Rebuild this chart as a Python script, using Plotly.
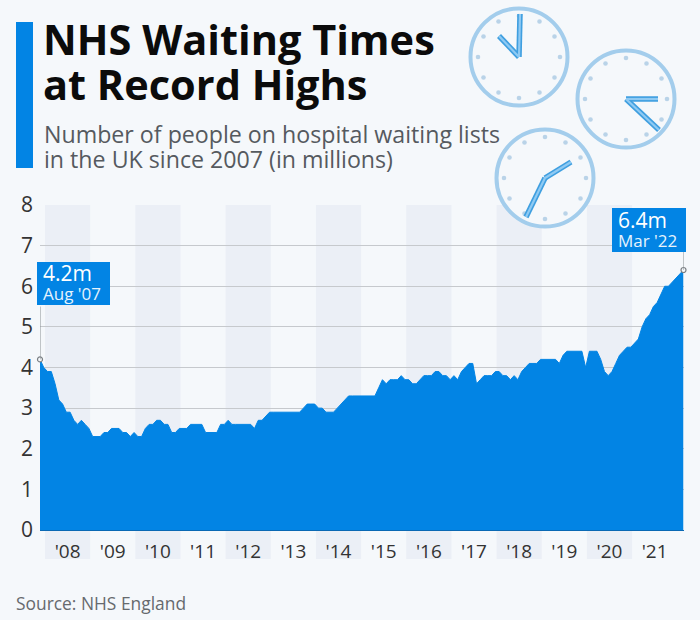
"""NHS waiting lists area chart, Statista style."""
import math

import plotly.graph_objects as go

# waiting list in millions
waiting_list = [
    4.2, 4.0, 3.9, 3.9, 3.6, 3.2, 3.1, 2.9, 2.9, 2.7, 2.6, 2.7,
    2.6, 2.5, 2.3, 2.3, 2.3, 2.4, 2.4, 2.5, 2.5, 2.5, 2.4, 2.4,
    2.3, 2.4, 2.3, 2.3, 2.5, 2.6, 2.6, 2.7, 2.7, 2.6, 2.6, 2.4,
    2.4, 2.5, 2.5, 2.5, 2.6, 2.6, 2.6, 2.6, 2.4, 2.4, 2.4, 2.4,
    2.6, 2.6, 2.7, 2.6, 2.6, 2.6, 2.6, 2.6, 2.6, 2.5, 2.7, 2.7,
    2.8, 2.9, 2.9, 2.9, 2.9, 2.9, 2.9, 2.9, 2.9, 2.9, 3.0, 3.1,
    3.1, 3.1, 3.0, 3.0, 2.9, 2.9, 2.9, 3.0, 3.1, 3.2, 3.3, 3.3,
    3.3, 3.3, 3.3, 3.3, 3.3, 3.3, 3.5, 3.7, 3.6, 3.7, 3.7, 3.7,
    3.8, 3.7, 3.7, 3.6, 3.6, 3.7, 3.8, 3.8, 3.8, 3.9, 3.9, 3.8,
    3.8, 3.7, 3.8, 3.7, 3.9, 4.0, 4.1, 4.1, 3.6, 3.7, 3.8, 3.8,
    3.8, 3.9, 3.9, 3.8, 3.8, 3.7, 3.8, 3.7, 3.9, 4.0, 4.1, 4.1,
    4.1, 4.2, 4.2, 4.2, 4.2, 4.2, 4.1, 4.3, 4.4, 4.4, 4.4, 4.4,
    4.4, 4.0, 4.4, 4.4, 4.4, 4.2, 3.9, 3.8, 3.9, 4.1, 4.3, 4.4,
    4.5, 4.5, 4.6, 4.7, 5.0, 5.2, 5.3, 5.5, 5.6, 5.8, 6.0, 6.0,
    6.1, 6.2, 6.3, 6.4,
]
year_labels = ["'08", "'09", "'10", "'11", "'12", "'13", "'14",
               "'15", "'16", "'17", "'18", "'19", "'20", "'21"]
year_centres = [7.33 + 12 * n for n in range(len(year_labels))]
y_ticks = [0, 1, 2, 3, 4, 5, 6, 7, 8]
months = list(range(len(waiting_list)))

FONT = "Open Sans"
BLUE = "#0284e4"
BACKGROUND = "#f5f8fb"
BAND = "#ebeff6"
CLOCK = "#a3cdec"
HAND_DARK = "#3f9fe0"
HAND_LIGHT = "#8fcaf3"
W, H = 700, 620


def px(x):
    return x / W


def py(y):
    return 1 - y / H


def paper_line(x0, y0, x1, y1, color, width):
    return dict(type="line", xref="paper", yref="paper", x0=px(x0), y0=py(y0),
                x1=px(x1), y1=py(y1), line=dict(color=color, width=width))


def paper_rect(x0, y0, x1, y1, color):
    return dict(type="rect", xref="paper", yref="paper", x0=px(x0), y0=py(y0),
                x1=px(x1), y1=py(y1), fillcolor=color, line=dict(width=0))


def paper_circle(cx, cy, r, fill, line_color=None, line_width=0):
    return dict(type="circle", xref="paper", yref="paper",
                x0=px(cx - r), y0=py(cy + r), x1=px(cx + r), y1=py(cy - r),
                fillcolor=fill, line=dict(color=line_color, width=line_width))


def clock_shapes(cx, cy, hands):
    shapes = [paper_circle(cx, cy, 48.5, BACKGROUND, CLOCK, 4)]
    for hour in range(12):
        angle = math.radians(hour * 30)
        shapes.append(paper_circle(cx + 41 * math.sin(angle),
                                   cy - 41 * math.cos(angle),
                                   2.3, "#b9d3e8"))
    for color, width in ((HAND_DARK, 5.5), (HAND_LIGHT, 2.2)):
        for hx, hy in hands:
            shapes.append(paper_line(cx, cy, hx, hy, color, width))
    return shapes


shapes = []
# alternating year bands, every second year
for centre in year_centres[::2]:
    shapes.append(dict(type="rect", xref="x", yref="paper", layer="below",
                       x0=centre - 6, x1=centre + 6, y0=py(559), y1=py(205),
                       fillcolor=BAND, line=dict(width=0)))

shapes.append(paper_rect(16, 22, 33, 168, BLUE))
shapes += clock_shapes(519, 57, [(520, 14), (499, 36)])
shapes += clock_shapes(626, 99, [(658, 99), (659, 130)])
shapes += clock_shapes(545, 178, [(571, 162), (526, 217)])

# callouts
shapes.append(dict(type="line", xref="x", yref="y", x0=months[0], x1=months[0],
                   y0=waiting_list[0], y1=5.5, line=dict(color="#8a8f94", width=1)))
shapes.append(dict(type="line", xref="x", yref="y", x0=months[-1], x1=months[-1],
                   y0=waiting_list[-1], y1=6.9, line=dict(color="#8a8f94", width=1)))
shapes.append(paper_rect(37, 262, 110, 305, BLUE))
shapes.append(paper_rect(612, 208, 686, 252, BLUE))


def text(x, y, content, size, color, anchor="left", bold=False):
    return dict(xref="paper", yref="paper", x=px(x), y=py(y), text=content,
                xanchor=anchor, yanchor="middle", showarrow=False,
                font=dict(family=FONT, size=size, color=color,
                          weight=700 if bold else 400))


annotations = [
    text(41, 39, "NHS Waiting Times", 41.5, "#0b0b0b", bold=True),
    text(41, 84, "at Record Highs", 41.5, "#0b0b0b", bold=True),
    text(42, 134, "Number of people on hospital waiting lists", 23.2, "#555a5f"),
    text(42, 159, "in the UK since 2007 (in millions)", 23.2, "#555a5f"),
    text(41, 273, "4.2m", 21, "#ffffff"),
    text(41, 293, "Aug '07", 17, "#e6f3fd"),
    text(616, 220, "6.4m", 21, "#ffffff"),
    text(616, 240, "Mar '22", 17, "#e6f3fd"),
    text(14, 603, "Source: NHS England", 17.4, "#666a6e"),
]

fig = go.Figure()
fig.add_trace(go.Scatter(x=months, y=waiting_list, mode="lines", fill="tozeroy",
                         fillcolor=BLUE, line=dict(color=BLUE, width=1),
                         hoverinfo="skip"))
fig.add_trace(go.Scatter(x=[months[0], months[-1]],
                         y=[waiting_list[0], waiting_list[-1]], mode="markers",
                         marker=dict(size=5, color=BACKGROUND,
                                     line=dict(color="#7a7f84", width=1.2)),
                         cliponaxis=False, hoverinfo="skip"))

fig.update_layout(
    width=W,
    height=H,
    margin=dict(l=0, r=0, t=0, b=0, pad=0, autoexpand=False),
    paper_bgcolor=BACKGROUND,
    plot_bgcolor="rgba(0,0,0,0)",
    showlegend=False,
    shapes=shapes,
    annotations=annotations,
    font=dict(family=FONT),
)
fig.update_xaxes(
    domain=[px(40), px(683.5)],
    range=[months[0], months[-1]],
    tickmode="array",
    tickvals=year_centres,
    ticktext=year_labels,
    tickfont=dict(family=FONT, size=19, color="#333333"),
    ticks="",
    showgrid=False,
    zeroline=False,
    showline=True,
    linecolor="#0a69b4",
    linewidth=1,
    ticklabelstandoff=4,
    automargin=False,
)
fig.update_yaxes(
    domain=[py(530), py(205)],
    range=[0, 8],
    tickmode="array",
    tickvals=y_ticks,
    tickfont=dict(family=FONT, size=21, color="#333333"),
    ticks="",
    showgrid=True,
    gridcolor="#c6c9cd",
    gridwidth=1,
    zeroline=False,
    ticklabelstandoff=6,
    automargin=False,
)

fig.write_html(
    "out.html",
    config={"displayModeBar": False},
    post_script="document.body.style.margin='0';document.body.style.background='#f5f8fb';",
)
